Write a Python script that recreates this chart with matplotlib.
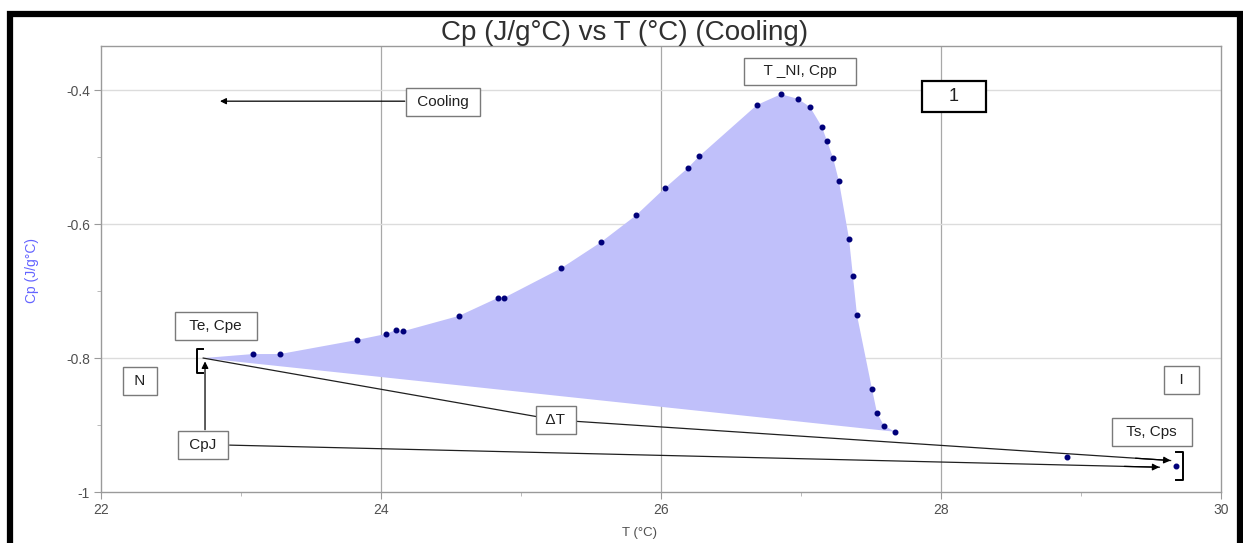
import matplotlib
matplotlib.use("Agg")
import matplotlib.pyplot as plt
from matplotlib.patches import Rectangle

plt.rcParams['font.family'] = ['Liberation Sans', 'DejaVu Sans']

# ---- data ----
T = [23.086, 23.279, 23.829, 24.036, 24.107, 24.157, 24.557, 24.836, 24.879,
     25.286, 25.571, 25.821, 26.029, 26.193, 26.271, 26.686, 26.857, 26.979,
     27.064, 27.150, 27.186, 27.229, 27.271, 27.343, 27.371, 27.400, 27.507,
     27.543, 27.593, 27.671, 28.900, 29.679]
Cp = [-0.794, -0.794, -0.773, -0.764, -0.758, -0.760, -0.737, -0.710, -0.710,
      -0.666, -0.627, -0.587, -0.546, -0.516, -0.499, -0.422, -0.406, -0.413,
      -0.425, -0.455, -0.476, -0.501, -0.536, -0.622, -0.678, -0.736, -0.846,
      -0.882, -0.901, -0.910, -0.948, -0.961]
n_fill = 30  # points included in the shaded peak

Te, Cpe = 22.73, -0.80

# ΔT connector: Te,Cpe -> ΔT label -> Ts,Cps
baseline_T = [22.73, 25.25, 29.64]
baseline_Cp = [-0.800, -0.8925, -0.953]

# CpJ connector
cpj_T = [22.92, 29.56]
cpj_Cp = [-0.930, -0.963]

xticks = [22, 24, 26, 28, 30]
yticks = [-1, -0.8, -0.6, -0.4]
ytick_labels = ['-1', '-0.8', '-0.6', '-0.4']

# ---- figure ----
W, H = 1243, 543
fig = plt.figure(figsize=(W / 100, H / 100), dpi=100)
ax = fig.add_axes([101 / W, 1 - 492 / H, (1221 - 101) / W, (492 - 46) / H])
ax.set_xlim(22, 30)
ax.set_ylim(-1, -0.334)

# grid
for x in [24, 26, 28]:
    ax.axvline(x, color='#a8a8a8', lw=0.9, zorder=0)
for y in [-0.8, -0.6, -0.4]:
    ax.axhline(y, color='#dcdcdc', lw=1.0, zorder=0)

# shaded peak
fx = [Te] + T[:n_fill] + [Te]
fy = [Cpe] + Cp[:n_fill] + [Cpe]
ax.fill(fx, fy, color='#c0c0fa', lw=0, zorder=1)


def arrow_end(xs, ys, back=0.25, ms=10):
    x1, y1 = xs[-1], ys[-1]
    x0, y0 = xs[-2], ys[-2]
    f = back / (x1 - x0)
    ax.annotate('', xy=(x1, y1), xytext=(x1 - back, y1 - (y1 - y0) * f),
                arrowprops=dict(arrowstyle='-|>', color='black', lw=0.9,
                                mutation_scale=ms, shrinkA=0, shrinkB=0),
                zorder=3)


ax.plot(baseline_T, baseline_Cp, color='#202020', lw=0.9, zorder=2)
arrow_end(baseline_T, baseline_Cp)
ax.plot(cpj_T, cpj_Cp, color='#202020', lw=0.9, zorder=2)
arrow_end(cpj_T, cpj_Cp)

# vertical arrow from CpJ box up to Te
ax.annotate('', xy=(22.743, -0.805), xytext=(22.743, -0.907),
            arrowprops=dict(arrowstyle='-|>', color='black', lw=0.9,
                            mutation_scale=10, shrinkA=0, shrinkB=0), zorder=3)
# Cooling arrow
ax.annotate('', xy=(22.85, -0.4164), xytext=(24.17, -0.4164),
            arrowprops=dict(arrowstyle='-|>', color='black', lw=0.9,
                            mutation_scale=9, shrinkA=0, shrinkB=0), zorder=3)

# brackets
ax.plot([22.73, 22.686, 22.686, 22.73], [-0.787, -0.787, -0.823, -0.823],
        color='black', lw=1.4, zorder=4)
ax.plot([29.68, 29.729, 29.729, 29.68], [-0.940, -0.940, -0.982, -0.982],
        color='black', lw=1.4, zorder=4)

# data points
ax.plot(T, Cp, 'o', color='#00007a', ms=3.3, zorder=5)

# labels boxes
box = dict(boxstyle='square,pad=0.45', fc='white', ec='#7a7a7a', lw=1.0)
labels = [
    (' Cooling ', 24.443, -0.418, 11, box),
    ('   T _NI, Cpp   ', 26.993, -0.372, 11, box),
    ('  Te, Cpe  ', 22.821, -0.752, 11, box),
    (' N ', 22.279, -0.834, 11, box),
    (' CpJ ', 22.729, -0.930, 11, box),
    (' ΔT ', 25.25, -0.8925, 11, box),
    ('  I  ', 29.721, -0.833, 11, box),
    ('  Ts, Cps  ', 29.507, -0.910, 11, box),
    ('    1    ', 28.093, -0.409, 13,
     dict(boxstyle='square,pad=0.4', fc='white', ec='black', lw=1.6)),
]
for s, x, y, fs, bb in labels:
    ax.text(x, y, s, ha='center', va='center', fontsize=fs, color='#202020',
            bbox=bb, zorder=6)

# axes styling
for sp in ax.spines.values():
    sp.set_color('#9a9a9a')
    sp.set_linewidth(1.0)
ax.set_xticks(xticks)
ax.set_xticklabels([str(v) for v in xticks])
ax.set_yticks(yticks)
ax.set_yticklabels(ytick_labels)
ax.set_xticks([23, 25, 27, 29], minor=True)
ax.set_yticks([-0.9, -0.7, -0.5], minor=True)
ax.tick_params(which='major', length=5, color='#9a9a9a', labelcolor='#505050',
               labelsize=10, direction='out', pad=3)
ax.tick_params(which='minor', length=3, color='#b0b0b0', direction='out')

fig.text(640 / W, 1 - 533 / H, 'T (°C)', ha='center', va='center',
         fontsize=9.5, color='#505050')
fig.text(32 / W, 1 - 271 / H, 'Cp (J/g°C)', ha='center', va='center',
         rotation=90, fontsize=10, color='#6464ff')
fig.text(625 / W, 1 - 33 / H, 'Cp (J/g°C) vs T (°C) (Cooling)', ha='center',
         va='center', fontsize=20, color='#303030')

# outer frame
fig.patches.append(Rectangle((10 / W, -0.02), (1240 - 10) / W, 1.02 - 14 / H,
                             transform=fig.transFigure, fill=False,
                             ec='black', lw=4.5))

fig.savefig('out.png', dpi=100)
